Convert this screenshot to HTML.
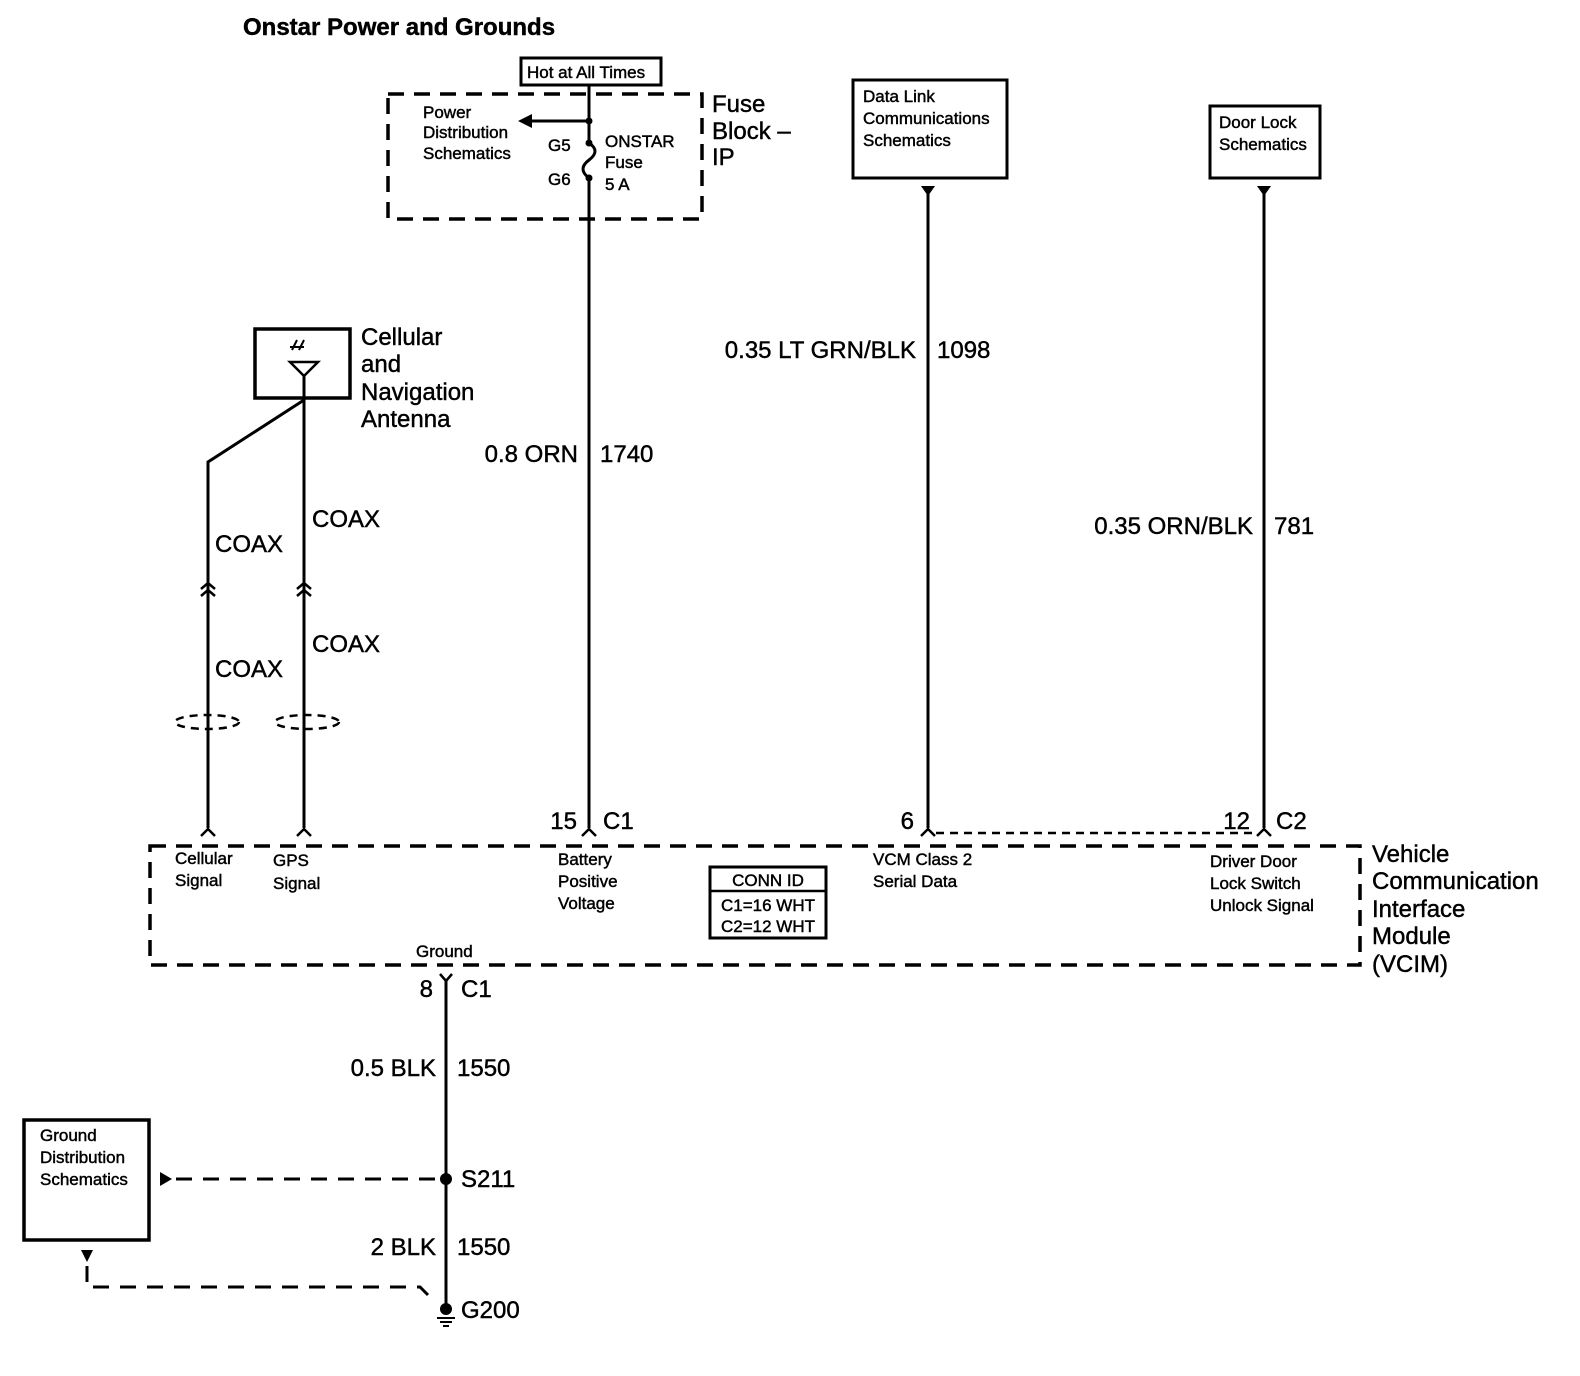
<!DOCTYPE html>
<html><head><meta charset="utf-8"><style>
body{margin:0;background:#fff}
svg{display:block}
text{font-family:"Liberation Sans",sans-serif;fill:#000;stroke:#000;stroke-width:0.45}
.s{font-size:17px}
.m{font-size:24px}
</style></head><body>
<svg width="1580" height="1376" viewBox="0 0 1580 1376" xmlns="http://www.w3.org/2000/svg">
<g stroke="#000" fill="none">
<rect x="388" y="94" width="314" height="125" stroke-width="3.5" stroke-dasharray="16,10"/>
<rect x="521" y="58" width="140" height="27" stroke-width="3"/>
<line x1="589" y1="85" x2="589" y2="143" stroke-width="3"/>
<line x1="589" y1="121" x2="530" y2="121" stroke-width="3"/>
<path d="M589 143 q12 8 0 17 q-12 9 0 18" stroke-width="3"/>
<line x1="589" y1="178" x2="589" y2="828" stroke-width="3"/>
<rect x="853" y="80" width="154" height="98" stroke-width="3"/>
<line x1="928" y1="190" x2="928" y2="828" stroke-width="3"/>
<rect x="1210" y="106" width="110" height="72" stroke-width="3"/>
<line x1="1264" y1="190" x2="1264" y2="828" stroke-width="3"/>
<rect x="255" y="329" width="95" height="69" stroke-width="3.5"/>
<path d="M290 362 h28 l-14 14 z" stroke-width="2.5"/>
<line x1="304" y1="376" x2="304" y2="828" stroke-width="3"/>
<path d="M304 400 L208 462 V828" stroke-width="3"/>
<path d="M292 350 l5 -10 M299 350 l5 -10 M290 347 h14" stroke-width="2"/>
<path d="M201 589 l7 -6 l7 6 M201 596 l7 -6 l7 6 M297 589 l7 -6 l7 6 M297 596 l7 -6 l7 6" stroke-width="2.5"/>
<ellipse cx="207" cy="722" rx="32" ry="7" stroke-width="2.5" stroke-dasharray="8,6"/>
<ellipse cx="307" cy="722" rx="32" ry="7" stroke-width="2.5" stroke-dasharray="8,6"/>
<path d="M201 836 l7 -7 l7 7 M297 836 l7 -7 l7 7 M582 836 l7 -7 l7 7 M921 836 l7 -7 l7 7 M1257 836 l7 -7 l7 7" stroke-width="2.5"/>
<line x1="936" y1="833" x2="1256" y2="833" stroke-width="2.5" stroke-dasharray="8,6"/>
<rect x="150" y="846" width="1210" height="119" stroke-width="3.5" stroke-dasharray="16,10"/>
<rect x="710" y="867" width="116" height="71" stroke-width="3"/>
<line x1="710" y1="891" x2="826" y2="891" stroke-width="2.5"/>
<path d="M440 974 l6 7 l6 -7" stroke-width="2.5"/>
<line x1="446" y1="981" x2="446" y2="1312" stroke-width="3"/>
<rect x="24" y="1120" width="125" height="120" stroke-width="3.5"/>
<line x1="176" y1="1179" x2="440" y2="1179" stroke-width="3" stroke-dasharray="16,11"/>
<path d="M87 1266 V1287 H420 l8 8" stroke-width="3" stroke-dasharray="16,11"/>
<path d="M437 1318 h18 M440 1322 h12 M443 1326 h6" stroke-width="2"/>
</g>
<g fill="#000">
<path d="M518 121 l14 -7 v14 z"/>
<circle cx="589" cy="121" r="3.5"/><circle cx="589" cy="143" r="3.5"/><circle cx="589" cy="178" r="3.5"/>
<path d="M921 186 h14 l-7 10 z"/>
<path d="M1257 186 h14 l-7 10 z"/>
<circle cx="446" cy="1179" r="6"/>
<circle cx="446" cy="1309" r="6"/>
<path d="M160 1172 l12 7 l-12 7 z"/>
<path d="M81 1250 h12 l-6 12 z"/>
</g>
<text x="243" y="35" style="font-size:24px;font-weight:bold">Onstar Power and Grounds</text>
<text x="527" y="78" class="s">Hot at All Times</text>
<text x="423" y="118" class="s">Power</text>
<text x="423" y="138" class="s">Distribution</text>
<text x="423" y="159" class="s">Schematics</text>
<text x="548" y="151" class="s">G5</text>
<text x="548" y="185" class="s">G6</text>
<text x="605" y="147" class="s">ONSTAR</text>
<text x="605" y="168" class="s">Fuse</text>
<text x="605" y="190" class="s">5 A</text>
<text x="712" y="112" class="m">Fuse</text>
<text x="712" y="139" class="m">Block –</text>
<text x="712" y="165" class="m">IP</text>
<text x="863" y="102" class="s">Data Link</text>
<text x="863" y="124" class="s">Communications</text>
<text x="863" y="146" class="s">Schematics</text>
<text x="1219" y="128" class="s">Door Lock</text>
<text x="1219" y="150" class="s">Schematics</text>
<text x="361" y="345" class="m">Cellular</text>
<text x="361" y="372" class="m">and</text>
<text x="361" y="400" class="m">Navigation</text>
<text x="361" y="427" class="m">Antenna</text>
<text x="916" y="358" class="m" text-anchor="end">0.35 LT GRN/BLK</text>
<text x="937" y="358" class="m">1098</text>
<text x="578" y="462" class="m" text-anchor="end">0.8 ORN</text>
<text x="600" y="462" class="m">1740</text>
<text x="1253" y="534" class="m" text-anchor="end">0.35 ORN/BLK</text>
<text x="1274" y="534" class="m">781</text>
<text x="215" y="552" class="m">COAX</text>
<text x="312" y="527" class="m">COAX</text>
<text x="215" y="677" class="m">COAX</text>
<text x="312" y="652" class="m">COAX</text>
<text x="577" y="829" class="m" text-anchor="end">15</text>
<text x="603" y="829" class="m">C1</text>
<text x="914" y="829" class="m" text-anchor="end">6</text>
<text x="1250" y="829" class="m" text-anchor="end">12</text>
<text x="1276" y="829" class="m">C2</text>
<text x="175" y="864" class="s">Cellular</text>
<text x="175" y="886" class="s">Signal</text>
<text x="273" y="866" class="s">GPS</text>
<text x="273" y="889" class="s">Signal</text>
<text x="558" y="865" class="s">Battery</text>
<text x="558" y="887" class="s">Positive</text>
<text x="558" y="909" class="s">Voltage</text>
<text x="768" y="886" class="s" text-anchor="middle">CONN ID</text>
<text x="768" y="911" class="s" text-anchor="middle">C1=16 WHT</text>
<text x="768" y="932" class="s" text-anchor="middle">C2=12 WHT</text>
<text x="873" y="865" class="s">VCM Class 2</text>
<text x="873" y="887" class="s">Serial Data</text>
<text x="1210" y="867" class="s">Driver Door</text>
<text x="1210" y="889" class="s">Lock Switch</text>
<text x="1210" y="911" class="s">Unlock Signal</text>
<text x="1372" y="862" class="m">Vehicle</text>
<text x="1372" y="889" class="m">Communication</text>
<text x="1372" y="917" class="m">Interface</text>
<text x="1372" y="944" class="m">Module</text>
<text x="1372" y="972" class="m">(VCIM)</text>
<text x="416" y="957" class="s">Ground</text>
<text x="433" y="997" class="m" text-anchor="end">8</text>
<text x="461" y="997" class="m">C1</text>
<text x="436" y="1076" class="m" text-anchor="end">0.5 BLK</text>
<text x="457" y="1076" class="m">1550</text>
<text x="461" y="1187" class="m">S211</text>
<text x="436" y="1255" class="m" text-anchor="end">2 BLK</text>
<text x="457" y="1255" class="m">1550</text>
<text x="461" y="1318" class="m">G200</text>
<text x="40" y="1141" class="s">Ground</text>
<text x="40" y="1163" class="s">Distribution</text>
<text x="40" y="1185" class="s">Schematics</text>
</svg>
</body></html>
